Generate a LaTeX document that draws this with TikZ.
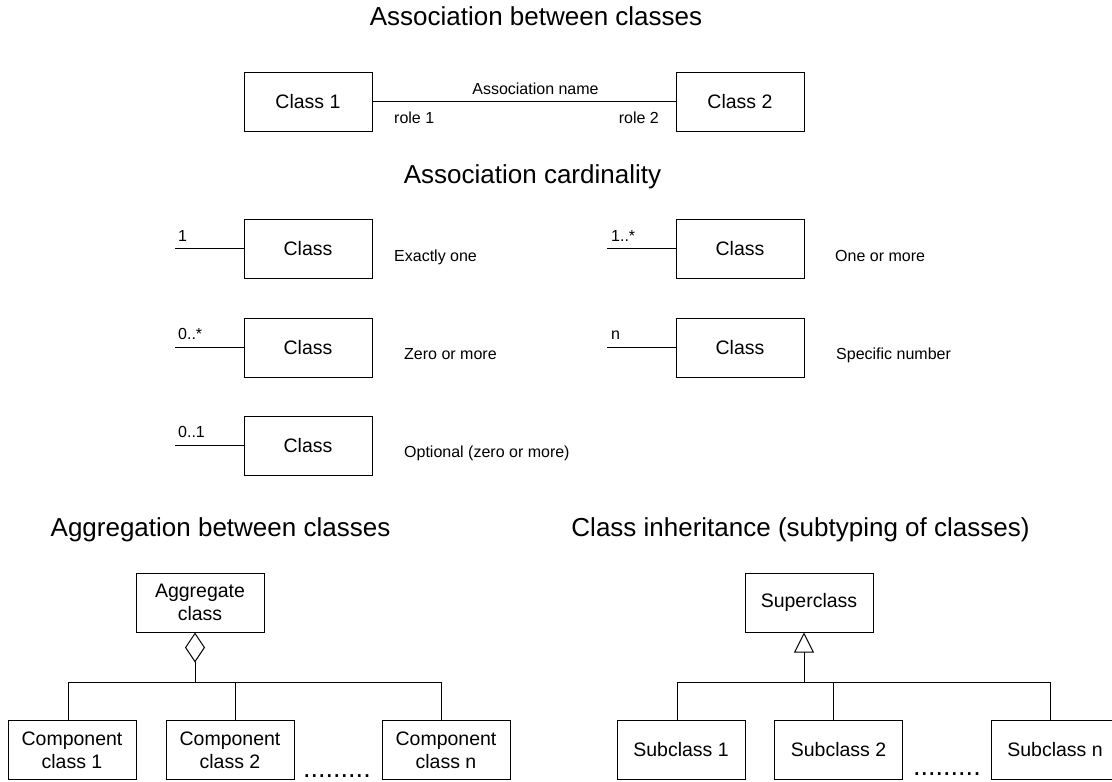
\documentclass[tikz,border=0pt]{standalone}
\usepackage{fontspec}
\setmainfont{Liberation Sans}
\usetikzlibrary{arrows.meta}
\begin{document}
\begin{tikzpicture}[x=1pt,y=-1pt,
  box/.style={draw, line width=1pt, minimum width=128pt, minimum height=59pt, inner sep=0pt, align=center, font=\fontsize{19.5}{23}\selectfont},
  ttl/.style={font=\fontsize{26}{30}\selectfont, anchor=base, inner sep=0pt},
  lbl/.style={font=\fontsize{16}{19}\selectfont, anchor=base west, inner sep=0pt},
  conn/.style={line width=1pt},
  dotrow/.style={font=\fontsize{27}{27}\selectfont, anchor=base west, inner sep=0pt}]
\useasboundingbox (0,0) rectangle (1112,782);
\clip (0,0) rectangle (1112,782);

% Association between classes
\node[ttl] (t1) at (536,25) {Association between classes};
\node[box] (c1) at (308,101.5) {Class 1};
\node[box] (c2) at (740,101.5) {Class 2};
\draw[conn] (c1.east) -- (c2.west);
\node[lbl, anchor=base] (an) at (535.5,94) {Association name};
\node[lbl] (r1) at (394,123) {role 1};
\node[lbl, anchor=base east] (r2) at (659,123) {role 2};

% Association cardinality
\node[ttl] (t2) at (532.5,183) {Association cardinality};

\node[box] (k1) at (308,248.5) {Class};
\coordinate (e1) at (175,248.5);
\draw[conn] (e1) -- (k1.west);
\node[lbl] (m1) at (178,241) {1};
\node[lbl] (d1) at (394,261) {Exactly one};

\node[box] (k2) at (740,248.5) {Class};
\coordinate (e2) at (607,248.5);
\draw[conn] (e2) -- (k2.west);
\node[lbl] (m2) at (611,241) {1..*};
\node[lbl] (d2) at (835,261) {One or more};

\node[box] (k3) at (308,347.5) {Class};
\coordinate (e3) at (175,347.5);
\draw[conn] (e3) -- (k3.west);
\node[lbl] (m3) at (178,339) {0..*};
\node[lbl] (d3) at (404,359) {Zero or more};

\node[box] (k4) at (740,347.5) {Class};
\coordinate (e4) at (607,347.5);
\draw[conn] (e4) -- (k4.west);
\node[lbl] (m4) at (611,339) {n};
\node[lbl] (d4) at (836,359) {Specific number};

\node[box] (k5) at (308,445.5) {Class};
\coordinate (e5) at (175,445.5);
\draw[conn] (e5) -- (k5.west);
\node[lbl] (m5) at (178,437) {0..1};
\node[lbl] (d5) at (404,457) {Optional (zero or more)};

% Aggregation
\node[ttl] (t3) at (220.5,536) {Aggregation between classes};
\node[box] (ag) at (200,602.5) {Aggregate\\class};
\coordinate (aj) at (195,682);
\draw[conn, -{Diamond[open, length=30pt, width=20pt]}] (aj) -- (aj |- ag.south);
\node[box] (p1) at (72,750) {Component\\class 1};
\node[box] (p2) at (230,750) {Component\\class 2};
\node[box] (p3) at (446,750) {Component\\class n};
\coordinate (a1) at (68,682);
\coordinate (a2) at (235,682);
\coordinate (a3) at (441,682);
\draw[conn] (a1) -- (a3);
\draw[conn] (a1) -- (a1 |- p1.north);
\draw[conn] (a2) -- (a2 |- p2.north);
\draw[conn] (a3) -- (a3 |- p3.north);
\node[dotrow] (ad) at (303,777) {.........};

% Inheritance
\node[ttl] (t4) at (800.5,536) {Class inheritance (subtyping of classes)};
\node[box] (sp) at (809,602.5) {Superclass};
\coordinate (ij) at (804,682);
\draw[conn, -{Triangle[open, length=20pt, width=20pt]}] (ij) -- (ij |- sp.south);
\node[box] (s1) at (681,750) {Subclass 1};
\node[box] (s2) at (838.5,750) {Subclass 2};
\node[box] (s3) at (1055,750) {Subclass n};
\coordinate (b1) at (677,682);
\coordinate (b2) at (833,682);
\coordinate (b3) at (1050,682);
\draw[conn] (b1) -- (b3);
\draw[conn] (b1) -- (b1 |- s1.north);
\draw[conn] (b2) -- (b2 |- s2.north);
\draw[conn] (b3) -- (b3 |- s3.north);
\node[dotrow] (id) at (913,775) {.........};
\end{tikzpicture}
\end{document}
